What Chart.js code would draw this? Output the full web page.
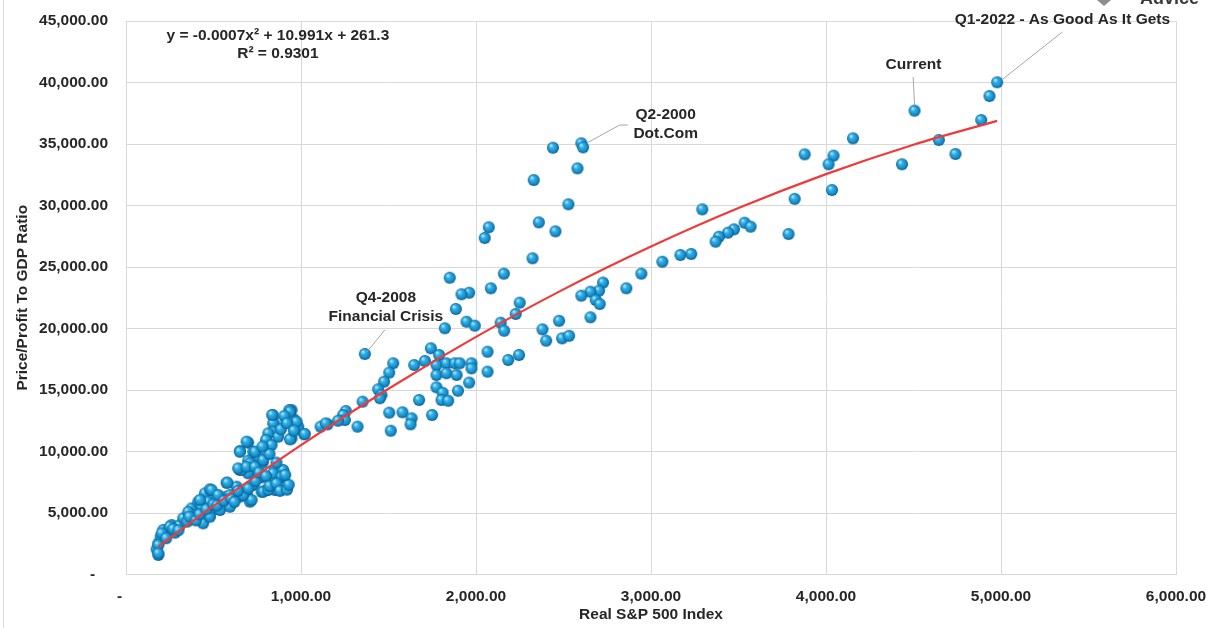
<!DOCTYPE html>
<html>
<head>
<meta charset="utf-8">
<script src="https://cdn.jsdelivr.net/npm/chart.js@4.4.0/dist/chart.umd.min.js"></script>
<style>
  html, body { margin: 0; padding: 0; background: #fff; }
  #wrap { position: relative; width: 1211px; height: 628px; }
  #wrap:before { content: ''; position: absolute; left: 3px; top: 0; bottom: 0; border-left: 1px solid #d9d9d9; }
</style>
</head>
<body>
<div id="wrap"><canvas id="chart" width="1211" height="628"></canvas></div>
<script>
// Real S&P 500 index (x) vs Price/Profit to GDP ratio (y)
const spxReal = [
  4978, 4934, 4506, 4887, 4645, 4740, 4434, 4154, 4043, 4015, 4034, 3878, 3821, 3786,
  3293, 3535, 3569, 3474, 3440, 3388, 3369, 3230, 3168, 3065, 2945, 2859, 2726, 2703,
  2654, 2602, 2684, 2707, 2654,
  2602, 2612, 2440, 2580, 2330, 2528, 2359, 2454, 2073, 2050, 2323, 2159, 2085, 1850,
  1961, 1917, 1885, 2250, 2227, 2141, 2161, 1946, 1993, 1822, 2475, 2380, 2401, 2492,
  2532, 2066, 2184, 2246, 2066,
  1365, 1742, 1789, 1527, 1647, 1708, 1504, 1475, 1441, 1460, 1352, 1451, 1774, 1831,
  1879, 1907, 1974, 1974, 1774, 1831, 1889, 1961, 1897, 1774, 1809, 1803, 1841, 1675,
  1749, 1504, 1580, 1632, 1626, 1513, 1323, 1256, 1241, 1251, 1212, 1152, 1112, 1142,
  1018, 984, 959, 946, 946,
  933, 838, 889, 941, 1022, 937, 841, 841, 813, 800, 832, 698, 651, 727, 761, 698, 651,
  781, 851, 898, 698, 775, 841, 889, 575, 632, 727, 804, 851, 898, 689, 775, 575, 651, 708,
  185, 175, 185, 198, 213, 261, 242, 280, 308, 327, 375, 394, 413, 451, 480, 470, 432,
  451, 489, 518, 546, 579, 594, 661, 708, 784, 841, 898, 898,
  836, 937, 975, 689, 651, 737, 641, 689, 737, 784, 889, 813, 718, 670, 489, 423, 356,
  251, 204, 185, 185, 441, 480, 537, 594, 527,
  230, 270, 300, 350, 362, 400, 420, 460, 500, 520, 560, 600, 620, 640, 700, 740, 760,
  800, 820, 860, 880, 920, 930, 910, 860, 820, 780, 870, 885, 905, 920, 960
];
const ratioToGdp = [
  40020, 38900, 37710, 36950, 35330, 34190, 33350, 35460, 34050, 33350, 31260, 34160, 30540, 27680,
  29690, 28600, 28280, 28060, 27790, 27460, 27060, 26060, 25980, 25430, 24460, 23270, 23730, 23070,
  22990, 22670, 22320, 21990, 20910,
  35060, 34730, 34700, 33020, 32070, 30100, 28630, 27900, 28230, 27360, 25710, 24460, 23270, 24130,
  22910, 22780, 21590, 22100, 21180, 20470, 19820, 20550, 20230, 20020, 20630, 19930, 19010, 19200,
  19410, 18110, 17440, 17850, 16490,
  17930, 18390, 17850, 17170, 17030, 17360, 16410, 15680, 15060, 14590, 14050, 14330, 17030, 17170,
  17170, 17170, 17170, 16760, 16220, 16360, 16220, 15600, 14940, 15220, 14780, 14190, 14130, 14190,
  12970, 13160, 13190, 12700, 12210, 11690, 12020, 13290, 12970, 12560, 12500, 12210, 12020, 12290,
  11400, 12020, 12620, 13370, 11070,
  13370, 12970, 12420, 12780, 11420, 10990, 12290, 11610, 11480, 10940, 10530, 10720, 10040, 9980, 9530, 9250, 8500,
  9090, 8500, 8360, 8230, 7900, 7820, 7680, 7460, 7140, 7280, 6870, 6870, 7010, 6600, 6730, 6330, 6330, 5920,
  1590, 2050, 2540, 3070, 3620, 4020, 3480, 3400, 4020, 4570, 5380, 4840, 5920, 6600, 6930, 5920, 5510,
  4840, 5240, 6330, 5790, 7460, 6460, 8500, 9040, 6730, 8230, 7140, 8500,
  12970, 13240, 12420, 10800, 9980, 9980, 8630, 8760, 8760, 9310, 7950, 6870, 6060, 6460, 6870, 6060, 5100,
  3890, 3350, 2400, 1720, 4160, 4700, 5240, 5510, 6460,
  2950, 3700, 3600, 4300, 4700, 4400, 4900, 5300, 5700, 5600, 6000, 6200, 5900, 6800, 7000, 7600, 8300,
  8000, 7200, 7400, 6800, 6900, 7300, 8100, 9100, 9800, 10400, 11200, 11800, 12900, 12300, 11700
];

// polynomial trend line
const trendX = [185, 500, 1000, 1500, 2000, 2500, 3000, 3500, 4000, 4500, 4978];
const trendY = [2270, 5580, 10520, 15100, 19320, 23180, 26660, 29790, 32550, 34940, 36880];

const xTicks = [0, 1000, 2000, 3000, 4000, 5000, 6000];
const yTicks = [0, 5000, 10000, 15000, 20000, 25000, 30000, 35000, 40000, 45000];

const equationText = ['y = -0.0007x\u00b2 + 10.991x + 261.3', 'R\u00b2 = 0.9301'];

// callouts: text lines anchored at data coords, plus leader line
const callouts = [
  { lines: ['Q1-2022 - As Good As It Gets'], x: 5351, y: 45080, leader: [[5351, 44110], [5003, 40200]] },
  { lines: ['Current'], x: 4500, y: 41420, leader: [[4498, 40450], [4506, 38170]] },
  { lines: ['Q2-2000', 'Dot.Com'], x: 3084, y: 37360, leader: [[2867, 36540], [2821, 36540], [2633, 35080]] },
  { lines: ['Q4-2008', 'Financial Crisis'], x: 1485, y: 22480, leader: [[1479, 19880], [1376, 18090]] }
];

const FONT = '"Liberation Sans", Arial, sans-serif';
const FSIZE = 15.5;
const gridColor = '#d9d9d9';

function fmt(v) {
  if (v === 0) return '-   ';
  return v.toLocaleString('en-US', { minimumFractionDigits: 2, maximumFractionDigits: 2 });
}

// shaded blue ball used as point marker
function makeBall(r) {
  const c = document.createElement('canvas');
  const s = r * 2 + 2;
  c.width = s; c.height = s;
  const g = c.getContext('2d');
  const cx = s / 2, cy = s / 2;
  const grad = g.createRadialGradient(cx - r * 0.35, cy - r * 0.4, r * 0.1, cx, cy, r);
  grad.addColorStop(0, '#a8e6ff');
  grad.addColorStop(0.3, '#36b0e8');
  grad.addColorStop(0.75, '#138cc8');
  grad.addColorStop(1, '#0a5886');
  g.fillStyle = grad;
  g.beginPath();
  g.arc(cx, cy, r, 0, Math.PI * 2);
  g.fill();
  return c;
}
const ball = makeBall(6);

const annotations = {
  id: 'annotations',
  afterDatasetsDraw(chart) {
    const ctx = chart.ctx;
    const xs = chart.scales.x, ys = chart.scales.y;
    ctx.save();
    ctx.fillStyle = '#262626';
    ctx.textAlign = 'center';
    ctx.textBaseline = 'middle';

    ctx.font = 'bold ' + FSIZE + 'px ' + FONT;
    ctx.fillText(equationText[0], xs.getPixelForValue(868), ys.getPixelForValue(43780));
    ctx.fillText(equationText[1], xs.getPixelForValue(868), ys.getPixelForValue(42320));

    callouts.forEach(c => {
      const px = xs.getPixelForValue(c.x);
      const py = ys.getPixelForValue(c.y);
      c.lines.forEach((t, i) => ctx.fillText(t, px, py + i * 19));
      ctx.strokeStyle = '#a6a6a6';
      ctx.lineWidth = 1;
      ctx.beginPath();
      c.leader.forEach((p, i) => {
        const lx = xs.getPixelForValue(p[0]), ly = ys.getPixelForValue(p[1]);
        if (i === 0) ctx.moveTo(lx, ly); else ctx.lineTo(lx, ly);
      });
      ctx.stroke();
    });

    // cut-off watermark at top right
    ctx.font = 'bold 18px ' + FONT;
    ctx.textAlign = 'left';
    ctx.textBaseline = 'alphabetic';
    ctx.fillStyle = '#3a3a3a';
    ctx.fillText('Advice', 1140, 4);
    ctx.fillStyle = '#8c8c8c';
    ctx.beginPath();
    ctx.moveTo(1097, 0); ctx.lineTo(1111, 0); ctx.lineTo(1104, 6); ctx.closePath();
    ctx.fill();
    ctx.restore();
  }
};

const tickFont = { family: FONT, size: FSIZE, weight: 'bold' };

new Chart(document.getElementById('chart'), {
  type: 'scatter',
  data: {
    datasets: [
      {
        label: 'Trend',
        type: 'line',
        data: trendX.map((x, i) => ({ x, y: trendY[i] })),
        borderColor: '#f03a3a',
        borderWidth: 2.2,
        pointRadius: 0,
        cubicInterpolationMode: 'monotone',
        fill: false,
        order: 0
      },
      {
        label: 'Price/Profit To GDP Ratio',
        data: spxReal.map((x, i) => ({ x, y: ratioToGdp[i] })),
        pointStyle: ball,
        pointRadius: 6,
        order: 1
      }
    ]
  },
  options: {
    responsive: false,
    animation: false,
    events: [],
    layout: { padding: { left: 13, right: 35, top: 21, bottom: 4 } },
    plugins: { legend: { display: false }, tooltip: { enabled: false } },
    scales: {
      x: {
        type: 'linear',
        min: 0, max: 6000,
        afterBuildTicks: s => { s.ticks = xTicks.map(v => ({ value: v })); },
        afterFit: s => { s.height = 49.5; s.paddingLeft = 0; s.paddingRight = 0; },
        grid: { color: gridColor, drawTicks: false },
        border: { color: gridColor },
        ticks: { color: '#262626', font: tickFont, padding: 13, callback: fmt, maxRotation: 0 },
        title: { display: true, text: 'Real S&P 500 Index', color: '#262626', font: tickFont, padding: { top: 3, bottom: 0 } }
      },
      y: {
        type: 'linear',
        min: 0, max: 45000,
        afterBuildTicks: s => { s.ticks = yTicks.map(v => ({ value: v })); },
        afterFit: s => { s.width = 113; s.paddingTop = 0; s.paddingBottom = 0; },
        grid: { color: gridColor, drawTicks: false },
        border: { color: gridColor },
        ticks: { color: '#262626', font: tickFont, padding: 18, callback: fmt },
        title: { display: true, text: 'Price/Profit To GDP Ratio', color: '#262626', font: tickFont, padding: 0 }
      }
    }
  },
  plugins: [annotations]
});
</script>
</body>
</html>
